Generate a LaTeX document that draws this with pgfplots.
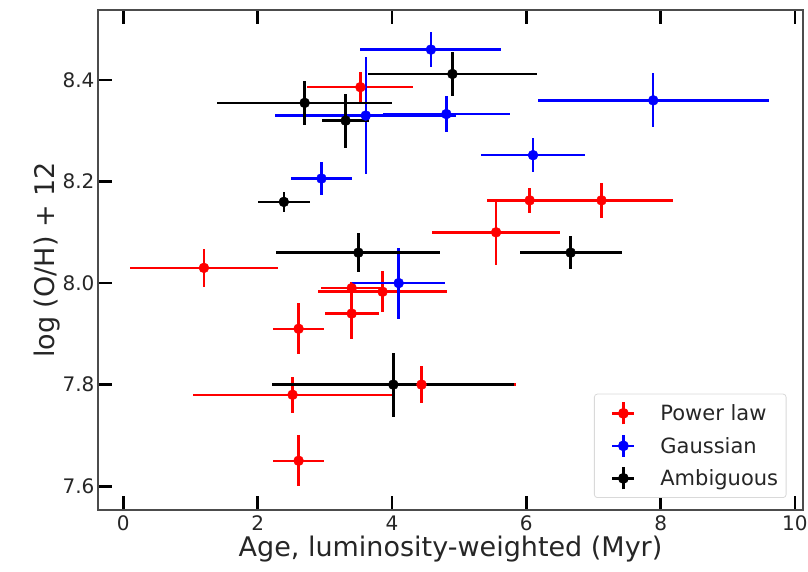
\documentclass[border=0pt]{standalone}
\usepackage{pgfplots}
\pgfplotsset{compat=1.18}
\usepackage{fontspec}
\setmainfont{DejaVu Sans}
\definecolor{mplred}{rgb}{1,0,0}
\definecolor{mplblue}{rgb}{0,0,1}
\definecolor{framegray}{rgb}{0.3,0.3,0.3}
\begin{document}
\begin{tikzpicture}
\begin{axis}[
  scale only axis,
  width=705pt, height=500pt,
  xmin=-0.377, xmax=10.12,
  ymin=7.553, ymax=8.538,
  xtick={0,2,4,6,8,10},
  ytick={7.6,7.8,8.0,8.2,8.4},
  xtick pos=both, ytick pos=left,
  tick align=inside,
  major tick length=14pt,
  tick style={line width=2.8pt, black},
  axis line style={line width=1.4pt, framegray},
  /pgf/number format/assume math mode=true,
  yticklabel style={/pgf/number format/.cd, fixed, fixed zerofill, precision=1},
  ticklabel style={font=\fontsize{20}{24}\selectfont, text=black!85},
  xticklabel style={yshift=-2pt},
  xlabel={Age, luminosity-weighted (Myr)},
  ylabel={log (O/H) + 12},
  label style={font=\fontsize{27}{32}\selectfont, text=black!85},
  xlabel style={yshift=2pt},
  ylabel style={yshift=-4pt},
  legend cell align=left,
  legend style={at={(0.7035,0.024)}, anchor=south west,
    draw=black!15, rounded corners=3pt, line width=0.8pt,
    font=\fontsize{21}{25}\selectfont, text=black!85,
    inner xsep=6pt, inner ysep=7pt, row sep=8pt},
  legend image code/.code={
    \path[draw=none, fill=none] (0pt,0pt) -- (58pt,0pt);
    \draw[#1, line width=2.5pt] (12pt,0pt) -- (34pt,0pt) (23pt,-11pt) -- (23pt,11pt);
    \fill[#1] (23pt,0pt) circle (5pt);
  },
]
\addplot[only marks, mark=*, mark size=5pt, color=mplred,
  error bars/.cd, x dir=both, x explicit, y dir=both, y explicit,
  error mark=none, error bar style={line width=2.5pt}]
  table[x=x, y=y, x error=ex, y error=ey] {
x y ex ey
1.20 8.030 1.10 0.037
3.53 8.386 0.79 0.030
3.40 7.990 0.45 0.012
3.86 7.983 0.96 0.040
3.40 7.940 0.40 0.050
2.61 7.910 0.38 0.050
2.52 7.780 1.48 0.035
2.61 7.650 0.38 0.050
4.44 7.800 1.41 0.037
6.05 8.163 0.63 0.024
7.12 8.163 1.07 0.035
5.55 8.100 0.95 0.065
};
\addlegendentry{Power law}
\addplot[only marks, mark=*, mark size=5pt, color=mplblue,
  error bars/.cd, x dir=both, x explicit, y dir=both, y explicit,
  error mark=none, error bar style={line width=2.5pt}]
  table[x=x, y=y, x error=ex, y error=ey] {
x y ex ey
4.58 8.460 1.05 0.035
3.61 8.330 1.35 0.115
4.81 8.333 0.94 0.035
2.95 8.206 0.46 0.033
7.89 8.360 1.72 0.053
6.10 8.252 0.77 0.033
4.10 8.000 0.69 0.070
};
\addlegendentry{Gaussian}
\addplot[only marks, mark=*, mark size=5pt, color=black,
  error bars/.cd, x dir=both, x explicit, y dir=both, y explicit,
  error mark=none, error bar style={line width=2.5pt}]
  table[x=x, y=y, x error=ex, y error=ey] {
x y ex ey
2.70 8.355 1.30 0.043
3.31 8.320 0.35 0.053
4.90 8.412 1.26 0.043
2.39 8.160 0.39 0.020
3.50 8.060 1.22 0.038
6.66 8.060 0.76 0.032
4.02 7.800 1.80 0.063
};
\addlegendentry{Ambiguous}
\end{axis}
\pgfresetboundingbox
\useasboundingbox ([xshift=-98pt,yshift=-62pt]current axis.south west) rectangle ([xshift=5pt,yshift=10pt]current axis.north east);
\end{tikzpicture}
\end{document}
